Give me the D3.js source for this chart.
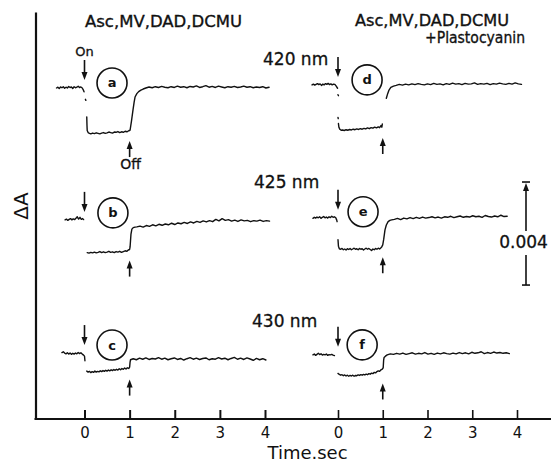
<!DOCTYPE html>
<html>
<head>
<meta charset="utf-8">
<script src="https://cdn.jsdelivr.net/npm/d3@7"></script>
<style>
  html, body { margin: 0; padding: 0; background: #ffffff; }
  svg { display: block; }
  text { font-family: "DejaVu Sans", "Liberation Sans", sans-serif; fill: #111; }
</style>
</head>
<body>
<svg id="chart" width="551" height="462"></svg>
<script>
// ---------------- DATA ----------------
const timeTicks = [0, 1, 2, 3, 4];
const tickLabels = ["0", "1", "2", "3", "4"];
const xLabel = "Time.sec";
const yLabel = "ΔA";
const wavelengths = ["420 nm", "425 nm", "430 nm"];
const leftTitle = ["Asc,MV,DAD,DCMU"];
const rightTitle = ["Asc,MV,DAD,DCMU", "+Plastocyanin"];
const traceLetters = ["a", "b", "c", "d", "e", "f"];
const tracePanel = [0, 0, 0, 1, 1, 1];
const traceRow = [0, 1, 2, 0, 1, 2];
// absorbance level of each trace's dark baseline (traces are stacked), ΔA
const traceBaseline = [0.01285, 0.00773, 0.00256, 0.01297, 0.00781, 0.00249];
// light-phase level of each trace, 10^-3 ΔA relative to its baseline
const lightLevel = [-1.75, -1.27, -0.72, -1.75, -1.22, -0.80];
const lightOnTime = 0;
const lightOffTime = 1;
const onLabel = "On";
const offLabel = "Off";
const scaleBarValue = 0.004;
const scaleBarBase = 0.0052;
const scaleBarLabel = "0.004";

// traces: [time (s), ΔA ×10^3 relative to baseline]; null = pen gap
const traceA = [
  [-0.62,0.00],[-0.59,0.03],[-0.56,-0.02],[-0.53,0.04],[-0.50,0.01],[-0.47,0.05],[-0.44,-0.01],[-0.41,0.03],
  [-0.38,0.00],[-0.35,0.06],[-0.32,0.02],[-0.29,0.04],[-0.26,-0.02],[-0.23,0.05],[-0.20,0.01],[-0.17,0.03],
  [-0.14,0.07],[-0.11,0.02],[-0.08,0.04],[-0.05,0.00],[-0.03,-0.06],[-0.01,-0.15],
  null,
  [0.02,-0.44],[0.03,-0.48],
  null,
  [0.05,-1.12],[0.055,-1.45],[0.06,-1.65],[0.08,-1.73],[0.11,-1.76],[0.14,-1.78],[0.18,-1.75],[0.22,-1.77],
  [0.26,-1.74],[0.30,-1.76],[0.34,-1.78],[0.38,-1.75],[0.42,-1.73],[0.46,-1.76],[0.50,-1.74],[0.54,-1.71],
  [0.58,-1.73],[0.62,-1.75],[0.66,-1.71],[0.70,-1.72],[0.74,-1.69],[0.78,-1.73],[0.82,-1.70],[0.86,-1.72],
  [0.90,-1.68],[0.94,-1.70],[0.98,-1.66],[1.01,-1.64],[1.04,-1.30],[1.075,-0.85],[1.10,-0.55],[1.12,-0.35],
  [1.16,-0.22],[1.20,-0.14],[1.25,-0.08],[1.30,-0.04],
  [1.36,0.00],[1.43,0.04],[1.50,0.01],[1.57,0.05],[1.64,0.02],[1.71,0.06],[1.78,0.03],[1.85,0.01],
  [1.92,0.05],[1.99,0.02],[2.06,0.07],[2.13,0.03],[2.20,0.05],[2.27,0.01],[2.34,0.06],[2.41,0.04],
  [2.48,0.08],[2.55,0.02],[2.62,0.05],[2.69,0.09],[2.76,0.03],[2.83,0.06],[2.90,0.02],[2.97,0.07],
  [3.04,0.04],[3.11,0.01],[3.18,0.05],[3.25,0.03],[3.32,0.06],[3.39,0.02],[3.46,0.04],[3.53,0.07],
  [3.60,0.03],[3.67,0.05],[3.74,0.01],[3.81,0.04],[3.88,0.02],[3.95,0.05],[4.02,0.00],[4.09,0.03]
];
const traceB = [
  [-0.43,0.00],[-0.40,0.03],[-0.37,-0.02],[-0.34,0.02],[-0.31,0.05],[-0.28,0.00],[-0.25,0.04],[-0.22,0.01],
  [-0.19,0.06],[-0.16,0.12],[-0.13,0.03],[-0.10,0.10],[-0.07,0.02],[-0.04,0.05],[-0.02,0.01],
  null,
  [0.06,-1.27],[0.10,-1.29],[0.14,-1.26],[0.18,-1.28],[0.22,-1.25],[0.26,-1.28],[0.30,-1.26],[0.34,-1.23],
  [0.38,-1.27],[0.42,-1.24],[0.46,-1.27],[0.50,-1.25],[0.54,-1.22],[0.58,-1.26],[0.62,-1.24],[0.66,-1.27],
  [0.70,-1.23],[0.74,-1.25],[0.78,-1.22],[0.82,-1.26],[0.86,-1.23],[0.90,-1.20],[0.94,-1.22],[0.97,-1.17],
  [1.00,-1.15],[1.01,-1.05],[1.02,-0.80],[1.03,-0.55],[1.05,-0.36],[1.08,-0.30],[1.12,-0.28],
  [1.16,-0.27],[1.23,-0.24],[1.30,-0.28],[1.37,-0.22],[1.44,-0.25],[1.51,-0.19],[1.58,-0.23],[1.65,-0.17],
  [1.72,-0.21],[1.79,-0.16],[1.86,-0.19],[1.93,-0.13],[2.00,-0.18],[2.07,-0.12],[2.14,-0.15],[2.21,-0.10],
  [2.28,-0.14],[2.35,-0.08],[2.42,-0.12],[2.49,-0.06],[2.56,-0.10],[2.63,-0.04],[2.70,-0.08],[2.77,-0.03],
  [2.84,-0.07],[2.91,0.02],[2.98,-0.04],[3.05,0.05],[3.12,-0.02],[3.19,0.01],[3.26,-0.05],[3.33,-0.01],
  [3.40,-0.06],[3.47,0.00],[3.54,-0.04],[3.61,-0.02],[3.68,-0.07],[3.75,-0.03],[3.82,-0.05],[3.89,-0.01],
  [3.96,-0.06],[4.03,-0.03],[4.10,-0.05]
];
const traceC = [
  [-0.50,0.02],[-0.47,0.05],[-0.44,0.00],[-0.41,-0.03],[-0.38,0.01],[-0.35,-0.04],[-0.32,0.00],[-0.29,-0.05],
  [-0.26,-0.01],[-0.23,-0.04],[-0.20,0.00],[-0.17,-0.03],[-0.14,0.02],[-0.11,-0.02],[-0.08,0.01],[-0.05,-0.04],
  [-0.02,-0.08],[0.00,-0.12],[0.01,-0.30],
  null,
  [0.05,-0.70],[0.08,-0.74],[0.11,-0.71],[0.14,-0.76],[0.17,-0.72],[0.20,-0.75],[0.23,-0.70],[0.26,-0.74],
  [0.29,-0.71],[0.32,-0.73],[0.35,-0.69],[0.38,-0.72],[0.41,-0.68],[0.44,-0.71],[0.47,-0.67],[0.50,-0.70],
  [0.53,-0.66],[0.56,-0.69],[0.59,-0.65],[0.62,-0.68],[0.65,-0.64],[0.68,-0.67],[0.71,-0.63],[0.74,-0.66],
  [0.77,-0.61],[0.80,-0.65],[0.83,-0.60],[0.86,-0.63],[0.89,-0.58],[0.92,-0.62],[0.95,-0.57],[0.98,-0.60],
  [1.00,-0.55],[1.01,-0.35],[1.02,-0.26],[1.05,-0.24],
  [1.08,-0.22],[1.15,-0.26],[1.22,-0.20],[1.29,-0.24],[1.36,-0.19],[1.43,-0.25],[1.50,-0.21],[1.57,-0.23],
  [1.64,-0.18],[1.71,-0.24],[1.78,-0.20],[1.85,-0.26],[1.92,-0.22],[1.99,-0.19],[2.06,-0.25],[2.13,-0.21],
  [2.20,-0.27],[2.27,-0.22],[2.34,-0.18],[2.41,-0.24],[2.48,-0.20],[2.55,-0.25],[2.62,-0.21],[2.69,-0.19],
  [2.76,-0.26],[2.83,-0.22],[2.90,-0.24],[2.97,-0.18],[3.04,-0.23],[3.11,-0.20],[3.18,-0.26],[3.25,-0.21],
  [3.32,-0.17],[3.39,-0.24],[3.46,-0.20],[3.53,-0.25],[3.60,-0.19],[3.67,-0.23],[3.74,-0.28],[3.81,-0.21],
  [3.88,-0.26],[3.95,-0.22],[4.02,-0.27]
];
const traceD = [
  [-0.58,0.00],[-0.55,0.03],[-0.52,-0.01],[-0.49,0.02],[-0.46,0.05],[-0.43,0.01],[-0.40,0.04],[-0.37,-0.02],
  [-0.34,0.03],[-0.31,0.00],[-0.28,0.05],[-0.25,0.02],[-0.22,0.06],[-0.19,0.01],[-0.16,0.04],[-0.13,0.00],
  [-0.10,0.03],[-0.07,0.02],[-0.04,-0.05],[-0.01,-0.13],
  null,
  [0.00,-0.38],[0.01,-0.42],
  null,
  [0.00,-1.26],[0.005,-1.31],
  null,
  [0.01,-1.50],[0.02,-1.64],[0.04,-1.72],[0.07,-1.76],[0.10,-1.75],[0.14,-1.77],[0.18,-1.74],[0.22,-1.76],
  [0.26,-1.73],[0.30,-1.75],[0.34,-1.72],[0.38,-1.74],[0.42,-1.71],[0.46,-1.73],[0.50,-1.70],[0.54,-1.72],
  [0.58,-1.69],[0.62,-1.71],[0.66,-1.67],[0.70,-1.70],[0.74,-1.66],[0.78,-1.68],[0.82,-1.64],[0.86,-1.67],
  [0.90,-1.63],[0.93,-1.66],[0.96,-1.58],[0.98,-1.64],[0.99,-1.52],
  null,
  [1.08,-0.52],[1.11,-0.34],[1.14,-0.20],[1.18,-0.10],[1.24,-0.05],
  [1.30,-0.02],[1.37,0.02],[1.44,-0.01],[1.51,0.03],[1.58,0.00],[1.65,0.04],[1.72,0.01],[1.79,0.05],
  [1.86,0.02],[1.93,0.00],[2.00,0.04],[2.07,0.01],[2.14,0.06],[2.21,0.02],[2.28,0.04],[2.35,0.00],
  [2.42,0.05],[2.49,0.02],[2.56,0.07],[2.63,0.03],[2.70,0.05],[2.77,0.01],[2.84,0.06],[2.91,0.03],
  [2.98,0.04],[3.05,0.08],[3.12,0.02],[3.19,0.05],[3.26,0.03],[3.33,0.06],[3.40,0.01],[3.47,0.05],
  [3.54,0.03],[3.61,0.07],[3.68,0.04],[3.75,0.02],[3.82,0.06],[3.89,0.03],[3.96,0.08],[4.03,0.04],[4.10,0.02]
];
const traceE = [
  [-0.56,-0.02],[-0.53,0.02],[-0.50,-0.01],[-0.47,0.03],[-0.44,0.00],[-0.41,0.04],[-0.38,-0.02],[-0.35,0.02],
  [-0.32,0.05],[-0.29,0.00],[-0.26,0.03],[-0.23,-0.01],[-0.20,0.04],[-0.17,0.01],[-0.14,0.06],[-0.11,0.02],
  [-0.08,0.04],[-0.05,0.00],[-0.03,-0.08],[-0.02,-0.15],
  null,
  [0.00,-0.85],[0.01,-1.10],[0.03,-1.20],[0.06,-1.22],[0.09,-1.19],[0.12,-1.24],[0.15,-1.21],[0.18,-1.25],
  [0.21,-1.20],[0.24,-1.23],[0.27,-1.19],[0.30,-1.24],[0.33,-1.21],[0.36,-1.18],[0.39,-1.22],[0.42,-1.20],
  [0.45,-1.24],[0.48,-1.19],[0.51,-1.22],[0.54,-1.20],[0.57,-1.25],[0.60,-1.21],[0.63,-1.18],[0.66,-1.22],
  [0.69,-1.19],[0.72,-1.23],[0.75,-1.27],[0.78,-1.21],[0.81,-1.24],[0.84,-1.19],[0.87,-1.22],[0.90,-1.18],
  [0.93,-1.21],[0.96,-1.16],[0.98,-1.12],[1.00,-1.05],[1.02,-0.85],[1.05,-0.47],[1.08,-0.28],[1.12,-0.15],
  [1.16,-0.10],[1.20,-0.08],
  [1.26,-0.06],[1.33,-0.02],[1.40,-0.07],[1.47,-0.01],[1.54,-0.04],[1.61,0.01],[1.68,-0.03],[1.75,0.02],
  [1.82,-0.02],[1.89,0.03],[1.96,-0.01],[2.03,0.01],[2.10,0.04],[2.17,0.00],[2.24,0.03],[2.31,-0.01],
  [2.38,0.04],[2.45,0.02],[2.52,0.06],[2.59,0.01],[2.66,0.04],[2.73,0.07],[2.80,0.02],[2.87,0.05],
  [2.94,0.03],[3.01,0.08],[3.08,0.04],[3.15,0.06],[3.22,0.02],[3.29,0.09],[3.36,0.05],[3.43,0.03],
  [3.50,0.07],[3.57,0.04],[3.64,0.10],[3.71,0.05],[3.78,0.06]
];
const traceF = [
  [-0.56,0.00],[-0.53,0.03],[-0.50,-0.02],[-0.47,0.02],[-0.44,0.06],[-0.41,0.01],[-0.38,0.04],[-0.35,-0.01],
  [-0.32,0.02],[-0.29,0.00],[-0.26,0.03],[-0.23,-0.02],[-0.20,0.01],[-0.17,0.00],[-0.14,0.02],[-0.11,-0.01],
  [-0.08,-0.03],
  null,
  [0.00,-0.72],[0.03,-0.76],[0.06,-0.79],[0.09,-0.77],[0.12,-0.81],[0.15,-0.78],[0.18,-0.82],[0.21,-0.79],
  [0.24,-0.83],[0.27,-0.80],[0.30,-0.82],[0.33,-0.79],[0.36,-0.83],[0.39,-0.80],[0.42,-0.81],[0.45,-0.78],
  [0.48,-0.80],[0.51,-0.77],[0.54,-0.79],[0.57,-0.76],[0.60,-0.78],[0.63,-0.75],[0.66,-0.77],[0.69,-0.73],
  [0.72,-0.75],[0.75,-0.71],[0.78,-0.73],[0.81,-0.68],[0.84,-0.70],[0.87,-0.65],[0.90,-0.62],[0.93,-0.64],
  [0.96,-0.58],[0.99,-0.55],[1.01,-0.50],[1.02,-0.20],[1.03,-0.10],[1.06,-0.05],
  [1.10,0.00],[1.17,0.04],[1.24,0.02],[1.31,0.06],[1.38,0.03],[1.45,0.07],[1.52,0.02],[1.59,0.05],
  [1.66,0.08],[1.73,0.03],[1.80,0.06],[1.87,0.04],[1.94,0.09],[2.01,0.03],[2.08,0.06],[2.15,0.02],
  [2.22,0.07],[2.29,0.04],[2.36,0.08],[2.43,0.05],[2.50,0.03],[2.57,0.07],[2.64,0.04],[2.71,0.09],
  [2.78,0.05],[2.85,0.08],[2.92,0.04],[2.99,0.10],[3.06,0.06],[3.13,0.08],[3.20,0.12],[3.27,0.05],
  [3.34,0.09],[3.41,0.06],[3.48,0.11],[3.55,0.07],[3.62,0.09],[3.69,0.06],[3.76,0.08],[3.83,0.05]
];
const traceData = [traceA, traceB, traceC, traceD, traceE, traceF];

// ---------------- DRAWING ----------------
const svg = d3.select("#chart");
const ink = "#111";

const xScales = [
  d3.scaleLinear().domain([0, 4]).range([84.5, 265]),
  d3.scaleLinear().domain([0, 4]).range([338, 517])
];
const y = d3.scaleLinear().domain([0, 0.0158]).range([419, 12]);
const yPos = (i, v) => y(traceBaseline[i] + v / 1000);

// y axis
svg.append("g")
  .attr("transform", "translate(35.5,0)")
  .call(d3.axisLeft(y).tickValues([]).tickSizeOuter(0))
  .call(g => g.select(".domain").attr("stroke", ink).attr("stroke-width", 2.2));

// x axis baseline
svg.append("line")
  .attr("x1", 34.5).attr("x2", 551).attr("y1", 419).attr("y2", 419)
  .attr("stroke", ink).attr("stroke-width", 2.2);

xScales.forEach((xs, p) => {
  svg.append("g")
    .attr("transform", "translate(0,419)")
    .call(d3.axisBottom(xs).tickValues(timeTicks)
      .tickFormat((d, i) => tickLabels[i])
      .tickSizeInner(-9).tickSizeOuter(0).tickPadding(8))
    .call(g => g.select(".domain").remove())
    .call(g => g.selectAll(".tick line").attr("stroke", ink).attr("stroke-width", p === 0 ? 2 : 1.6))
    .call(g => g.selectAll(".tick text").attr("fill", ink)
      .style("font-size", "15px").style("font-family", "DejaVu Sans, sans-serif"));
});

// axis labels
svg.append("text").attr("x", 307.5).attr("y", 459).attr("text-anchor", "middle")
  .style("font-size", "18px").text(xLabel);
svg.append("text").attr("transform", "translate(28,206) rotate(-90)").attr("text-anchor", "middle")
  .style("font-size", "20px").text(yLabel);

// condition titles
svg.append("text").attr("x", 163.5).attr("y", 27).attr("text-anchor", "middle")
  .attr("textLength", 157).attr("lengthAdjust", "spacingAndGlyphs")
  .style("font-size", "16px").style("stroke", ink).style("stroke-width", 0.35).text(leftTitle[0]);
svg.append("text").attr("x", 432).attr("y", 26).attr("text-anchor", "middle")
  .attr("textLength", 154).attr("lengthAdjust", "spacingAndGlyphs")
  .style("font-size", "16px").style("stroke", ink).style("stroke-width", 0.35).text(rightTitle[0]);
svg.append("text").attr("x", 525).attr("y", 43).attr("text-anchor", "end")
  .attr("textLength", 100).attr("lengthAdjust", "spacingAndGlyphs")
  .style("font-size", "16px").style("stroke", ink).style("stroke-width", 0.35).text(rightTitle[1]);

// wavelength labels (one per row)
const wlX = [263, 254, 252];
wavelengths.forEach((w, r) => {
  svg.append("text").attr("x", wlX[r]).attr("y", yPos(r, 0) - [23, 32, 26][r])
    .style("font-size", "17px").style("stroke", ink).style("stroke-width", 0.3).text(w);
});

// traces
const line = d3.line().defined(d => d !== null);
traceData.forEach((data, i) => {
  const xs = xScales[tracePanel[i]];
  line.x(d => xs(d[0])).y(d => yPos(i, d[1]));
  svg.append("path")
    .attr("d", line(data))
    .attr("fill", "none").attr("stroke", ink)
    .attr("stroke-width", 1.4).attr("stroke-linejoin", "round").attr("stroke-linecap", "round");
});

// arrows
function arrow(x, tipY, tailY) {
  const dir = Math.sign(tailY - tipY); // +1 when arrow points up
  const headLen = 8, half = 3;
  svg.append("line").attr("x1", x).attr("x2", x).attr("y1", tailY).attr("y2", tipY + dir * 4)
    .attr("stroke", ink).attr("stroke-width", 1.6);
  svg.append("path")
    .attr("d", `M${x},${tipY} L${x - half},${tipY + dir * headLen} L${x + half},${tipY + dir * headLen} Z`)
    .attr("fill", ink);
}
traceData.forEach((data, i) => {
  const xs = xScales[tracePanel[i]];
  const onTip = yPos(i, 0) - 8;
  arrow(xs(lightOnTime), onTip, onTip - 20);
  const offTip = yPos(i, lightLevel[i]) + 8;
  arrow(xs(lightOffTime), offTip, offTip + 16);
});
svg.append("text").attr("x", xScales[0](lightOnTime)).attr("y", yPos(0, 0) - 32)
  .attr("text-anchor", "middle").style("font-size", "13px")
  .style("stroke", ink).style("stroke-width", 0.3).text(onLabel);
svg.append("text").attr("x", xScales[0](lightOffTime) + 1).attr("y", yPos(0, lightLevel[0]) + 36)
  .attr("text-anchor", "middle").style("font-size", "14px")
  .style("stroke", ink).style("stroke-width", 0.3).text(offLabel);

// circled letters
const circleT = [0.61, 0.63, 0.61, 0.65, 0.56, 0.54];
const circleDy = [5, 7, 8, 5, 6, 10];
traceLetters.forEach((l, i) => {
  const cx = xScales[tracePanel[i]](circleT[i]);
  const cy = yPos(i, 0) - circleDy[i];
  svg.append("circle").attr("cx", cx).attr("cy", cy).attr("r", 15)
    .attr("fill", "none").attr("stroke", ink).attr("stroke-width", 1.6);
  svg.append("text").attr("x", cx).attr("y", cy).attr("text-anchor", "middle")
    .attr("dominant-baseline", "central").style("font-size", "13px").style("font-weight", "bold").text(l);
});

// scale bar
const sbX = 526;
const sbTop = y(scaleBarBase + scaleBarValue);
const sbBot = y(scaleBarBase);
svg.append("line").attr("x1", sbX - 4).attr("x2", sbX + 4).attr("y1", sbTop).attr("y2", sbTop)
  .attr("stroke", ink).attr("stroke-width", 1.6);
svg.append("line").attr("x1", sbX - 4).attr("x2", sbX + 4).attr("y1", sbBot).attr("y2", sbBot)
  .attr("stroke", ink).attr("stroke-width", 1.6);
arrow(sbX, sbTop + 1, sbTop + 49);
svg.append("line").attr("x1", sbX).attr("x2", sbX).attr("y1", sbBot - 30).attr("y2", sbBot)
  .attr("stroke", ink).attr("stroke-width", 1.6);
svg.append("text").attr("x", 523.5).attr("y", 248).attr("text-anchor", "middle")
  .style("font-size", "17px").style("stroke", ink).style("stroke-width", 0.3).text(scaleBarLabel);
</script>
</body>
</html>
